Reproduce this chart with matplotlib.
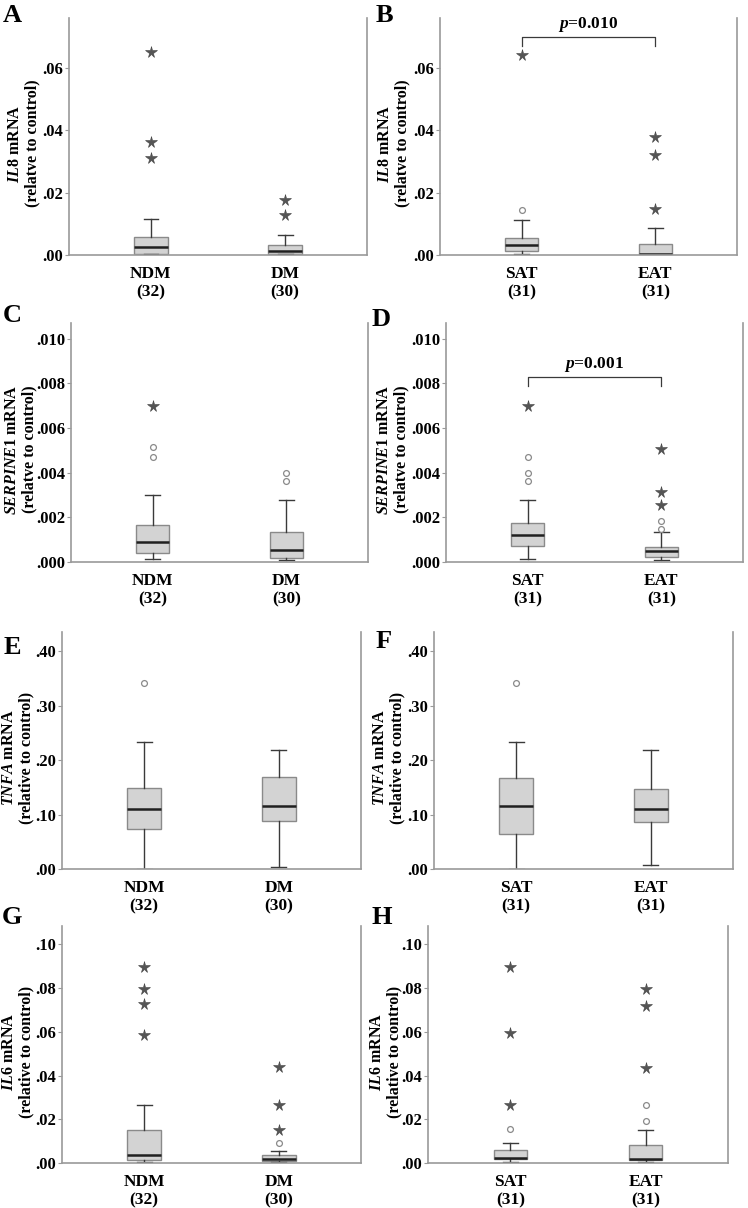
import matplotlib
matplotlib.use("Agg")
import matplotlib.pyplot as plt
from matplotlib.ticker import FixedLocator, FixedFormatter

plt.rcParams['font.family'] = ['Liberation Serif', 'DejaVu Serif']
plt.rcParams['font.weight'] = 'bold'
plt.rcParams['mathtext.fontset'] = 'custom'
plt.rcParams['mathtext.it'] = 'Liberation Serif:italic:bold'
plt.rcParams['mathtext.rm'] = 'Liberation Serif:bold'
plt.rcParams['mathtext.bf'] = 'Liberation Serif:bold'

# ---------------- data ----------------
groups_dm = ["NDM\n(32)", "DM\n(30)"]
groups_tissue = ["SAT\n(31)", "EAT\n(31)"]

# box stats per group: [whisker low, Q1, median, Q3, whisker high]
A_box = [[0.0003, 0.0004, 0.0027, 0.0057, 0.0114], [0.0002, 0.0003, 0.0013, 0.0032, 0.0063]]
A_circles = [[], []]
A_stars = [[0.0652, 0.0361, 0.0310], [0.0176, 0.0128]]

B_box = [[0.0002, 0.0013, 0.0032, 0.0054, 0.0113], [0.0000, 0.0001, 0.0004, 0.0036, 0.0088]]
B_circles = [[0.0143], []]
B_stars = [[0.0640], [0.0377, 0.0322, 0.0148]]

C_box = [[0.00015, 0.00040, 0.00090, 0.00164, 0.00300], [0.00010, 0.00018, 0.00055, 0.00134, 0.00278]]
C_circles = [[0.00513, 0.00470], [0.00400, 0.00363]]
C_stars = [[0.00697], []]

D_box = [[0.00013, 0.00070, 0.00121, 0.00173, 0.00278], [0.00010, 0.00022, 0.00048, 0.00067, 0.00133]]
D_circles = [[0.00470, 0.00400, 0.00363], [0.00185, 0.00148]]
D_stars = [[0.00697], [0.00506, 0.00312, 0.00257]]

E_box = [[0.0006, 0.0734, 0.1107, 0.1486, 0.2324], [0.0037, 0.0880, 0.1160, 0.1690, 0.2180]]
E_circles = [[0.342], []]
E_stars = [[], []]

F_box = [[0.0006, 0.0648, 0.1150, 0.1670, 0.2324], [0.0073, 0.0856, 0.1100, 0.1468, 0.2183]]
F_circles = [[0.342], []]
F_stars = [[], []]

G_box = [[0.0005, 0.0015, 0.0035, 0.0151, 0.0267], [0.0005, 0.0010, 0.0020, 0.0038, 0.0055]]
G_circles = [[], [0.0090]]
G_stars = [[0.0895, 0.0794, 0.0725, 0.0585], [0.0440, 0.0267, 0.0150]]

H_box = [[0.0003, 0.0017, 0.0024, 0.0061, 0.0092], [0.0006, 0.0012, 0.0020, 0.0084, 0.0150]]
H_circles = [[0.0154], [0.0266, 0.0194]]
H_stars = [[0.0895, 0.0594, 0.0266], [0.0794, 0.0719, 0.0435]]

ticks_il8 = [0.0, 0.02, 0.04, 0.06]
labels_il8 = [".00", ".02", ".04", ".06"]
ticks_serp = [0.0, 0.002, 0.004, 0.006, 0.008, 0.010]
labels_serp = [".000", ".002", ".004", ".006", ".008", ".010"]
ticks_tnf = [0.0, 0.10, 0.20, 0.30, 0.40]
labels_tnf = [".00", ".10", ".20", ".30", ".40"]
ticks_il6 = [0.0, 0.02, 0.04, 0.06, 0.08, 0.10]
labels_il6 = [".00", ".02", ".04", ".06", ".08", ".10"]

# ---------------- figure ----------------
W, H = 748, 1208
fig = plt.figure(figsize=(W / 100, H / 100), dpi=100)

SPINE = '#9a9a9a'


def panel(rect_px, box, circles, stars, groups, ticks, ticklabels, ymax,
          gene, second, letter, letter_px, label_x_px, bracket=None):
    l, r, t, b = rect_px
    ax = fig.add_axes([l / W, 1 - b / H, (r - l) / W, (b - t) / H])
    stats = [dict(whislo=s[0], q1=s[1], med=s[2], q3=s[3], whishi=s[4], fliers=[])
             for s in box]
    ax.bxp(stats, positions=[1, 2], widths=0.25, capwidths=0.11,
           patch_artist=True, showfliers=False,
           boxprops=dict(facecolor='#d3d3d3', edgecolor='#8a8a8a', linewidth=1.0),
           medianprops=dict(color='#202020', linewidth=1.8),
           whiskerprops=dict(color='#3a3a3a', linewidth=1.0),
           capprops=dict(color='#3a3a3a', linewidth=1.0))
    for i, (c, s) in enumerate(zip(circles, stars)):
        if c:
            ax.plot([i + 1] * len(c), c, 'o', mfc='white', mec='#8a8a8a',
                    ms=4.2, mew=0.9, ls='none', zorder=3)
        if s:
            ax.plot([i + 1] * len(s), s, marker='*', ls='none', color='#555555',
                    mec='#454545', ms=8.5, mew=0.4, zorder=3)
    ax.set_xlim(0.39, 2.61)
    ax.set_ylim(0, ymax)
    ax.set_xticks([1, 2])
    ax.set_xticklabels(groups, fontsize=12.5, fontweight='bold', linespacing=1.2)
    ax.tick_params(axis='x', length=0, pad=8)
    ax.yaxis.set_major_locator(FixedLocator(ticks))
    ax.yaxis.set_major_formatter(FixedFormatter(ticklabels))
    ax.tick_params(axis='y', length=3, width=0.8, color=SPINE, pad=1,
                   labelsize=12)
    for lab in ax.get_yticklabels():
        lab.set_fontweight('bold')
    for sp in ['left', 'bottom', 'right']:
        ax.spines[sp].set_color(SPINE)
        ax.spines[sp].set_linewidth(1.2)
    ax.spines['top'].set_visible(False)
    ax.set_ylabel(r"$\mathit{" + gene + r"}$ mRNA" + "\n" + second,
                  fontsize=11.5, fontweight='bold', linespacing=1.05)
    # label_x_px: right edge of the rotated two-line label block
    ax.yaxis.set_label_coords((label_x_px - l) / (r - l), 0.47)
    fig.text(letter_px[0] / W, 1 - letter_px[1] / H, letter, fontsize=19,
             fontweight='bold', ha='center', va='center')
    if bracket is not None:
        y_top, y_end, label = bracket
        ax.plot([1, 1, 2, 2], [y_end, y_top, y_top, y_end], color='#3a3a3a', lw=0.9)
        ax.text(1.5, y_top + ymax * 0.012, r"$\mathit{p}$=" + label,
                ha='center', va='bottom', fontsize=12.5, fontweight='bold')
    return ax


rel1 = "(relatve to control)"
rel2 = "(relative to control)"

panel((69, 367, 18, 255), A_box, A_circles, A_stars, groups_dm, ticks_il8, labels_il8,
      0.076, "IL8", rel1, "A", (12, 16), 40)
panel((440, 737, 18, 255), B_box, B_circles, B_stars, groups_tissue, ticks_il8, labels_il8,
      0.076, "IL8", rel1, "B", (384, 15), 410, bracket=(0.0698, 0.0670, "0.010"))
panel((71, 368, 323, 562), C_box, C_circles, C_stars, groups_dm, ticks_serp, labels_serp,
      0.0107, "SERPINE1", rel1, "C", (12, 316), 37)
panel((446, 743, 323, 562), D_box, D_circles, D_stars, groups_tissue, ticks_serp, labels_serp,
      0.0107, "SERPINE1", rel1, "D", (381, 320), 409, bracket=(0.00827, 0.0079, "0.001"))
panel((62, 361, 632, 869), E_box, E_circles, E_stars, groups_dm, ticks_tnf, labels_tnf,
      0.435, "TNFA", rel2, "E", (12, 647), 34)
panel((434, 733, 632, 869), F_box, F_circles, F_stars, groups_tissue, ticks_tnf, labels_tnf,
      0.435, "TNFA", rel2, "F", (384, 641), 405)
panel((62, 361, 926, 1163), G_box, G_circles, G_stars, groups_dm, ticks_il6, labels_il6,
      0.1084, "IL6", rel2, "G", (12, 918), 34)
panel((428, 728, 926, 1163), H_box, H_circles, H_stars, groups_tissue, ticks_il6, labels_il6,
      0.1084, "IL6", rel2, "H", (382, 918), 402)

fig.savefig("out.png", dpi=100, facecolor='white')
